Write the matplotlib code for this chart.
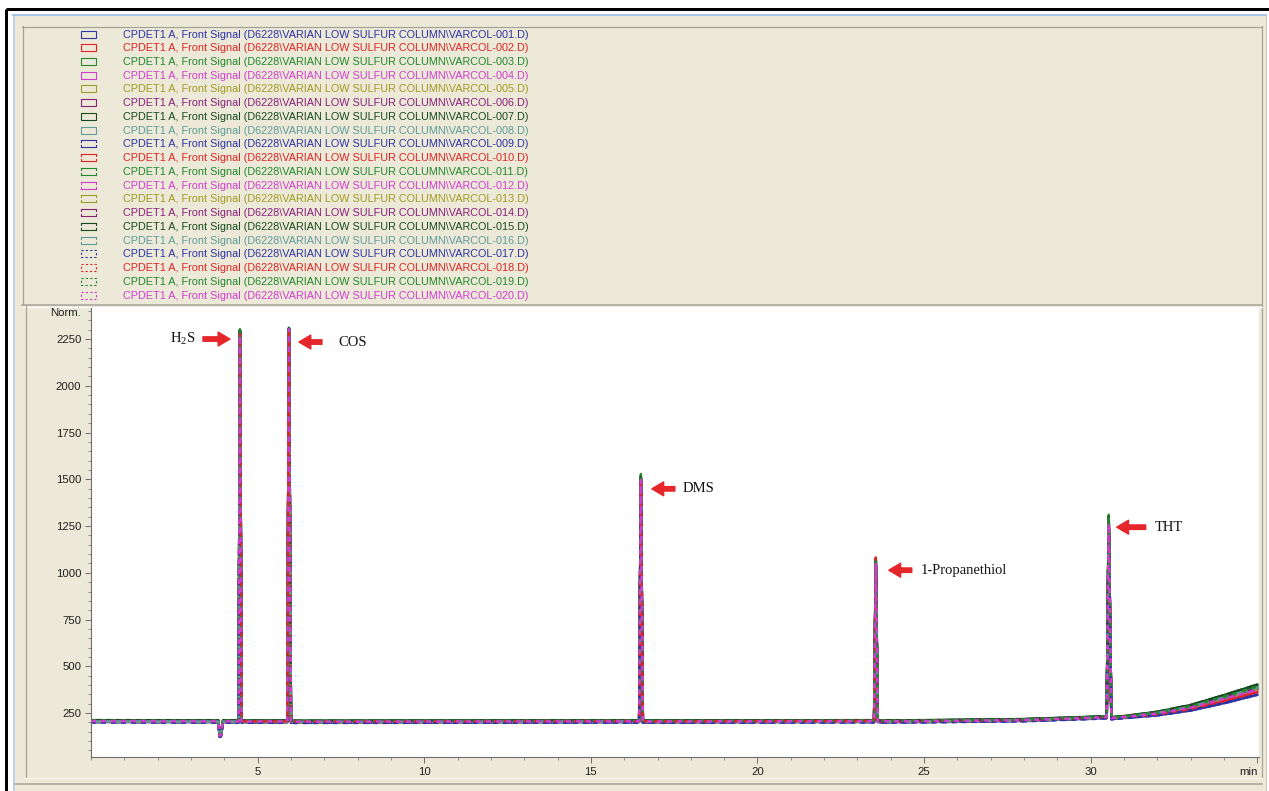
import matplotlib.pyplot as plt
from matplotlib.ticker import MultipleLocator, FixedLocator, FixedFormatter
from matplotlib.transforms import blended_transform_factory

plt.rcParams['mathtext.default'] = 'regular'

# ---- data -------------------------------------------------------------
run_names = [r"CPDET1 A, Front Signal (D6228\VARIAN LOW SULFUR COLUMN\VARCOL-%03d.D)" % i
             for i in range(1, 21)]
run_colours = ['#2E34A6', '#E02424', '#22882E', '#D23CD0',
               '#A29B22', '#8A1F7C', '#174A1F', '#5F9C99']

# shared trace vertices (min, signal) - None marks a peak apex
time_min = [0.00, 3.82, 3.86, 3.90, 3.96, 4.43, 4.47, 4.52, 5.89, 5.94, 6.00,
            16.45, 16.50, 16.56, 23.50, 23.55, 23.61, 25.00, 28.00, 30.00,
            30.48, 30.54, 30.62, 31.00]
base_signal = [206, 205, 128, 131, 205, 205, None, 204, 204, None, 203,
               205, None, 204, 206, None, 205, 206, 212, 224,
               228, None, 222, 228]

peak_names = ['H2S', 'COS', 'DMS', '1-Propanethiol', 'THT']
h2s_height = [2290, 2285, 2302, 1600, 2270, 2280, 2296, 2275, 2288, 2283,
              2300, 2262, 2272, 2279, 2292, 2276, 2286, 2281, 2299, 2268]
cos_height = [2305, 2300, 2310, 2298, 2302, 2306, 2303, 2299, 2307, 2301,
              2308, 2296, 2304, 2300, 2309, 2302, 2306, 2297, 2305, 2303]
dms_height = [1500, 1495, 1528, 1505, 1488, 1510, 1515, 1490, 1502, 1498,
              1522, 1480, 1493, 1507, 1512, 1486, 1499, 1504, 1520, 1496]
propanethiol_height = [1060, 1082, 1070, 1055, 1048, 1066, 1072, 1058, 1064, 1078,
                       1068, 1050, 1045, 1062, 1074, 1056, 1061, 1076, 1069, 1053]
tht_height = [1285, 1278, 1310, 1140, 1270, 1290, 1300, 1275, 1288, 1281,
              1305, 1150, 1268, 1293, 1298, 1272, 1284, 1279, 1302, 1262]
peak_heights = [h2s_height, cos_height, dms_height, propanethiol_height, tht_height]

baseline_offset = [-4, 2, 5, 1, -1, 3, 6, 0, -5, 1, 4, 2, -2, 3, 5, 0, -6, 2, 4, 1]

# rising baseline at the end of the run, one row per colour
tail_time = [32.0, 33.0, 34.0, 35.0]
tail_by_colour = [
    [238, 264, 303, 348],
    [244, 272, 316, 362],
    [252, 286, 337, 392],
    [248, 279, 326, 374],
    [249, 281, 329, 378],
    [250, 283, 332, 382],
    [257, 293, 346, 402],
    [251, 284, 334, 386],
]

# label text, arrow tip (min), arrow tail (min), arrow level, label position
labels = ['H$_2$S', 'COS', 'DMS', '1-Propanethiol', 'THT']
arrow_tip = [4.17, 6.24, 16.83, 23.94, 30.78]
arrow_tail = [3.36, 6.93, 17.52, 24.63, 31.65]
arrow_level = [2250, 2234, 1449, 1014, 1244]
label_x = [3.12, 7.41, 17.76, 24.90, 31.92]

y_ticks = [250, 500, 750, 1000, 1250, 1500, 1750, 2000, 2250]
x_ticks = [5, 10, 15, 20, 25, 30, 35]
x_tick_labels = ['5', '10', '15', '20', '25', '30', 'min']

# ---- figure and window chrome ----------------------------------------
W, H = 1269, 791
fig = plt.figure(figsize=(W / 100, H / 100), dpi=100)
fig.patch.set_facecolor('white')

bg = fig.add_axes([0, 0, 1, 1], zorder=0)
bg.set_xlim(0, W)
bg.set_ylim(H, 0)
bg.axis('off')

px = 0.72  # one pixel in points
beige = '#ECE9D8'
bg.add_patch(plt.Rectangle((14.5, 15.5), 1252, 776, color=beige, lw=0))
bg.plot([6, W], [9, 9], color='black', lw=3 * px, solid_capstyle='butt')
bg.plot([6, 6], [9, H], color='black', lw=3 * px, solid_capstyle='butt')
bg.plot([13, 1266], [15, 15], color='#A9C4EA', lw=2 * px)
bg.plot([13.5, 13.5], [15, H], color='#A9C4EA', lw=1.5 * px)
bg.plot([1265.5, 1265.5], [15, H], color='#C9C7BA', lw=1 * px)

dark = '#A3A297'
# legend panel frame
bg.plot([22, 1262], [26.5, 26.5], color=dark, lw=1.2 * px)
bg.plot([22.5, 22.5], [26, 304], color=dark, lw=1.2 * px)
bg.plot([1262, 1262], [26, 777], color=dark, lw=1.2 * px)
bg.plot([22, 1262], [304.5, 304.5], color=dark, lw=1.5 * px)
bg.plot([22, 1262], [306.5, 306.5], color='white', lw=1 * px)
# chart panel frame
bg.plot([25.5, 25.5], [306, 777], color=dark, lw=1.2 * px)
bg.plot([25, 1262], [777.5, 777.5], color='#F8F7F0', lw=1.2 * px)
bg.plot([15, 1262], [783.5, 783.5], color=dark, lw=1.5 * px)

# legend rows
row0, row_step = 34.0, 13.74
for i, name in enumerate(run_names):
    c = run_colours[i % 8]
    yc = row0 + i * row_step
    x0, x1, y0, y1 = 81, 96, yc - 3.5, yc + 3.5
    if i < 8:
        bg.add_patch(plt.Rectangle((x0, y0), x1 - x0, y1 - y0, fill=False,
                                   ec=c, lw=1.1 * px))
    elif i < 16:
        bg.plot([x0, x1], [y0, y0], color=c, lw=1.1 * px)
        bg.plot([x0, x1], [y1, y1], color=c, lw=1.1 * px)
        for xs in (x0, x1):
            bg.plot([xs, xs], [y0, y0 + 2], color=c, lw=1.1 * px)
            bg.plot([xs, xs], [y1, y1 - 2], color=c, lw=1.1 * px)
    else:
        bg.add_patch(plt.Rectangle((x0, y0), x1 - x0, y1 - y0, fill=False,
                                   ec=c, lw=1.1 * px, ls=(0, (2, 2))))
    bg.text(123, yc + 0.5, name, color=c, fontsize=7.85, family='Liberation Sans',
            va='center', ha='left')

# ---- chromatogram ----------------------------------------------------
ax = fig.add_axes([91 / W, (H - 757) / H, (1259 - 91) / W, (757 - 308) / H], zorder=1)
ax.set_facecolor('white')

apex_idx = [i for i, v in enumerate(base_signal) if v is None]
styles = ['-'] * 8 + [(0, (6, 2))] * 8 + [(0, (2, 2))] * 4
for r in range(20):
    sig = list(base_signal)
    for k, idx in enumerate(apex_idx):
        sig[idx] = peak_heights[k][r]
    sig = [v + baseline_offset[r] if j not in apex_idx else v for j, v in enumerate(sig)]
    t = time_min + tail_time
    s = sig + tail_by_colour[r % 8]
    ax.plot(t, s, color=run_colours[r % 8], lw=1.8, ls=styles[r])

ax.set_xlim(0, 35.05)
ax.set_ylim(15, 2416)

for sp in ('top', 'right'):
    ax.spines[sp].set_visible(False)
for sp in ('left', 'bottom'):
    ax.spines[sp].set_color('#6E6E6E')
    ax.spines[sp].set_linewidth(0.8)

ax.yaxis.set_major_locator(FixedLocator(y_ticks))
ax.yaxis.set_minor_locator(MultipleLocator(50))
ax.xaxis.set_major_locator(FixedLocator(x_ticks))
ax.xaxis.set_major_formatter(FixedFormatter(x_tick_labels))
ax.xaxis.set_minor_locator(MultipleLocator(1))
ax.tick_params(which='major', length=4.5, width=0.7, color='#6E6E6E',
               labelsize=8.2, labelcolor='#202020', pad=2.5)
ax.tick_params(which='minor', length=2.3, width=0.7, color='#8A8A8A')
for lab in ax.get_xticklabels() + ax.get_yticklabels():
    lab.set_family('Liberation Sans')
ax.get_xticklabels()[-1].set_horizontalalignment('right')

tr = blended_transform_factory(bg.transData, ax.transData)
ax.text(81, 2390, 'Norm.', transform=tr, ha='right', va='center',
        fontsize=8.2, family='Liberation Sans', color='#202020')

arrow_red = '#E5262B'
for k, lab in enumerate(labels):
    ax.annotate('', xy=(arrow_tip[k], arrow_level[k]),
                xytext=(arrow_tail[k], arrow_level[k]),
                arrowprops=dict(arrowstyle='simple,head_length=0.85,head_width=1.0,tail_width=0.32',
                                color=arrow_red, shrinkA=0, shrinkB=0, mutation_scale=10))
    ax.text(label_x[k], arrow_level[k], lab, ha='right' if k == 0 else 'left',
            va='center', fontsize=10.5, family='Liberation Serif', color='#111111')

fig.savefig('out.png', dpi=100)
